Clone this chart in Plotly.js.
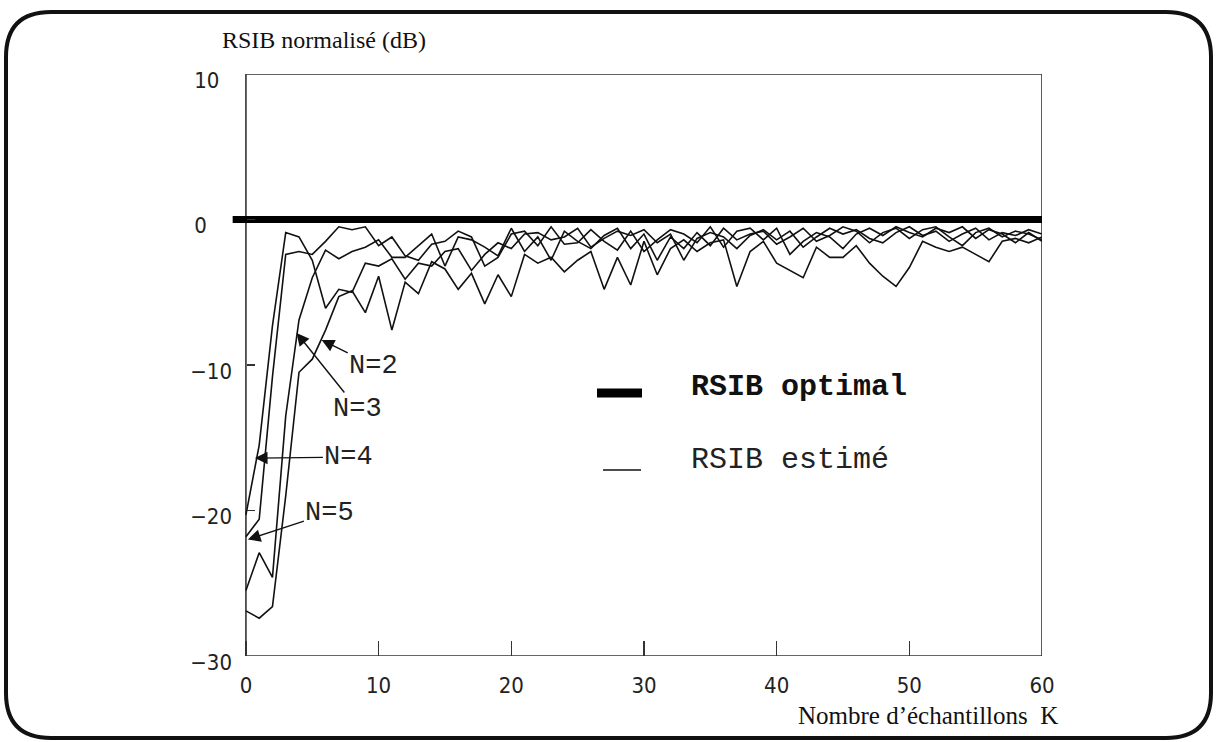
<!DOCTYPE html>
<html><head><meta charset="utf-8">
<script src="https://cdn.plot.ly/plotly-3.0.1.min.js"></script>
<style>html,body{margin:0;padding:0;background:#fff}</style>
</head><body><div id="chart" style="width:1217px;height:742px"></div>
<script>
// ---- data ----
const K = [0,1,2,3,4,5,6,7,8,9,10,11,12,13,14,15,16,17,18,19,20,21,22,23,24,25,26,27,28,29,30,
  31,32,33,34,35,36,37,38,39,40,41,42,43,44,45,46,47,48,49,50,51,52,53,54,55,56,57,58,59,60];
const rsibN2 = [-26.9,-27.4,-26.6,-19.0,-10.5,-9.6,-7.6,-5.3,-4.9,-6.4,-3.9,-7.6,-4.3,-5.1,-2.9,-3.4,-4.8,-3.7,-5.8,-3.8,-5.3,
  -2.4,-3.0,-2.6,-3.6,-2.8,-2.2,-4.8,-2.6,-4.5,-1.5,-3.8,-2.0,-1.4,-2.2,-1.6,-1.4,-4.6,-2.2,-1.5,-3.0,
  -3.5,-4.0,-1.9,-2.6,-2.6,-1.8,-3.0,-3.9,-4.6,-3.3,-1.5,-1.9,-2.2,-1.9,-2.4,-2.9,-1.5,-1.3,-1.6,-1.2];
const rsibN3 = [-25.5,-22.9,-24.6,-13.5,-6.9,-4.0,-2.1,-2.7,-2.2,-1.9,-1.4,-2.6,-2.6,-1.8,-1.0,-3.2,-1.2,-1.4,-1.9,-2.5,-0.6,
  -2.2,-1.2,-2.8,-0.8,-1.5,-2.0,-1.1,-0.6,-2.0,-1.0,-2.8,-1.2,-2.0,-0.9,-1.8,-0.6,-1.4,-1.0,-0.8,-1.7,
  -1.2,-0.6,-1.5,-1.1,-0.5,-0.8,-1.6,-0.9,-0.6,-1.3,-0.7,-0.5,-1.2,-1.8,-0.9,-0.6,-1.2,-0.8,-1.0,-1.4];
const rsibN4 = [-20.3,-15.5,-7.3,-0.9,-1.2,-2.8,-6.1,-4.8,-5.0,-3.0,-3.2,-2.7,-4.1,-3.0,-3.2,-2.2,-2.0,-3.5,-2.4,-1.6,-2.0,
  -1.0,-0.9,-1.4,-1.2,-0.6,-1.9,-1.3,-0.8,-1.1,-0.7,-1.6,-1.0,-2.8,-1.3,-0.9,-1.2,-2.0,-1.1,-0.7,-1.4,
  -0.8,-1.9,-1.2,-0.6,-1.0,-0.7,-1.3,-1.6,-0.9,-0.5,-1.1,-0.8,-1.5,-1.0,-0.6,-1.4,-0.9,-1.1,-0.7,-1.0];
const rsibN5 = [-21.8,-20.6,-10.8,-2.4,-2.2,-2.4,-1.5,-0.5,-0.7,-0.5,-1.8,-1.2,-2.5,-2.8,-1.7,-1.5,-0.8,-1.2,-3.2,-2.6,-1.0,
  -0.8,-1.8,-0.5,-1.7,-1.6,-0.7,-1.5,-2.1,-0.8,-2.2,-1.4,-0.7,-1.0,-1.6,-0.5,-1.9,-0.8,-0.6,-1.4,-0.6,
  -2.4,-1.5,-0.9,-1.2,-2.0,-1.0,-0.6,-1.1,-0.5,-0.9,-1.2,-0.6,-0.9,-0.5,-1.3,-0.7,-1.0,-1.6,-0.9,-1.5];
const optK = [-1, 60];
const optVal = [0, 0];
const xTicks = [0,10,20,30,40,50,60];
const xTickText = ['0','10','20','30','40','50','60'];
const yTicks = [-30,-20,-10,0,10];
const yTickText = ['\u221230','\u221220','\u221210','0\u2007\u2007','10\u2007'];
const legendLabels = ['RSIB optimal','RSIB estimé'];
const curveLabels = ['N=2','N=3','N=4','N=5'];
const xTitle = 'Nombre d\u2019échantillons\u00a0 K';
const yTitle = 'RSIB normalisé (dB)';

// ---- geometry helpers (pixel -> paper) ----
const W = 1217, H = 742;
const L = 232, R = 1042, T = 74, B = 656;
const px = x => (x - L) / (R - L);
const py = y => (B - y) / (B - T);

const thin = {color:'#111', width:1.6};
const traces = [rsibN2, rsibN3, rsibN4, rsibN5].map((v,i)=>({
  x:K, y:v, type:'scatter', mode:'lines', line:thin, name:curveLabels[i], showlegend:false, hoverinfo:'skip'
}));
traces.unshift({x:optK, y:optVal, type:'scatter', mode:'lines', line:{color:'#000', width:7},
  name:legendLabels[0], showlegend:false, hoverinfo:'skip'});

// rounded outer frame
const fx0 = px(6), fx1 = px(1211), fy1 = py(12), fy0 = py(738);
const rx = 45/(R-L), ry = 45/(B-T);
const framePath = `M ${fx0+rx},${fy1} L ${fx1-rx},${fy1} Q ${fx1},${fy1} ${fx1},${fy1-ry} L ${fx1},${fy0+ry} Q ${fx1},${fy0} ${fx1-rx},${fy0} L ${fx0+rx},${fy0} Q ${fx0},${fy0} ${fx0},${fy0+ry} L ${fx0},${fy1-ry} Q ${fx0},${fy1} ${fx0+rx},${fy1} Z`;

const narrow = 'Liberation Sans Narrow, DejaVu Sans Condensed, Arial Narrow, sans-serif';
const serif = 'Liberation Serif, Times New Roman, serif';
const mono = 'Liberation Mono, Courier New, monospace';

const arrowBase = {xref:'x', yref:'y', showarrow:true, arrowhead:2, arrowsize:1.8, arrowwidth:1.4,
  arrowcolor:'#111', font:{family:mono, size:27, color:'#222'}};

const layout = {
  width:W, height:H, margin:{l:L, r:W-R, t:T, b:H-B, pad:0},
  paper_bgcolor:'#fff', plot_bgcolor:'#fff', showlegend:false,
  xaxis:{range:[-1.05,60], tickmode:'array', tickvals:xTicks, ticktext:xTickText, ticks:'inside', ticklen:15,
    tickwidth:1.2, tickcolor:'#333', showgrid:false, zeroline:false, showline:false,
    tickfont:{family:narrow, size:22, color:'#222'}, ticklabelstandoff:14},
  yaxis:{range:[-30,10], tickmode:'array', tickvals:yTicks, ticktext:yTickText, ticks:'inside', ticklen:8,
    tickwidth:1.2, tickcolor:'#333', showgrid:false, zeroline:false, showline:false,
    anchor:'free', position:px(246), ticklabelshift:6, ticklabelstandoff:14,
    tickfont:{family:narrow, size:22, color:'#222'}},
  shapes:[
    {type:'rect', xref:'x', yref:'y', x0:0, x1:60, y0:-30, y1:10, line:{color:'#333', width:1.6}, layer:'below'},
    {type:'path', xref:'paper', yref:'paper', path:framePath, line:{color:'#111', width:4}},
    {type:'line', xref:'paper', yref:'paper', x0:px(597), x1:px(642), y0:py(393), y1:py(393), line:{color:'#000', width:9}},
    {type:'line', xref:'paper', yref:'paper', x0:px(603), x1:px(641), y0:py(470), y1:py(470), line:{color:'#111', width:1.6}}
  ],
  annotations:[
    {xref:'paper', yref:'paper', x:px(689), y:py(387), xanchor:'left', yanchor:'middle', showarrow:false,
      text:'<b>'+legendLabels[0]+'</b>', font:{family:mono, size:30, color:'#111'}},
    {xref:'paper', yref:'paper', x:px(689), y:py(460), xanchor:'left', yanchor:'middle', showarrow:false,
      text:legendLabels[1], font:{family:mono, size:30, color:'#222'}},
    {xref:'paper', yref:'paper', x:px(220), y:py(40), xanchor:'left', yanchor:'middle', showarrow:false,
      text:yTitle, font:{family:serif, size:24, color:'#111'}},
    {xref:'paper', yref:'paper', x:px(1060), y:py(715), xanchor:'right', yanchor:'middle', showarrow:false,
      text:xTitle, font:{family:serif, size:25, color:'#111'}},
    Object.assign({x:5.71, y:-8.28, ax:52, ay:26, text:curveLabels[0]}, arrowBase),
    Object.assign({x:3.82, y:-7.8, ax:61, ay:76, text:curveLabels[1]}, arrowBase),
    Object.assign({x:0.68, y:-16.4, ax:94, ay:-1, text:curveLabels[2]}, arrowBase),
    Object.assign({x:0.15, y:-22.0, ax:82, ay:-27, text:curveLabels[3]}, arrowBase)
  ]
};

Plotly.newPlot('chart', traces, layout, {staticPlot:true, displayModeBar:false});
</script>
</body></html>
